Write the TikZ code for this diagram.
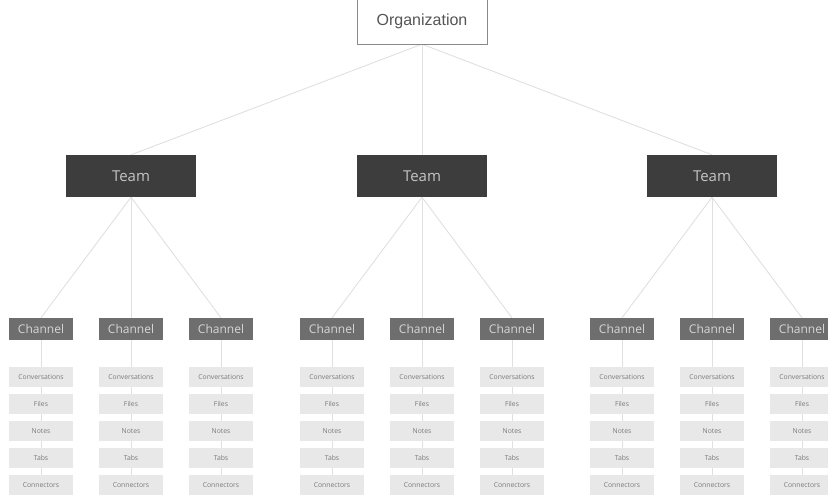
\documentclass[tikz,border=0pt]{standalone}
\usepackage{fontspec}
\setmainfont{Open Sans}
\newfontfamily\orgfont{Liberation Sans}
\usepackage{tikz}
\usetikzlibrary{positioning}
\usetikzlibrary{backgrounds}

\definecolor{orgline}{HTML}{8A8A8A}
\definecolor{orgtext}{HTML}{555555}
\definecolor{teamgray}{HTML}{3D3D3D}
\definecolor{teamtext}{HTML}{C4C4C4}
\definecolor{changray}{HTML}{6E6E6E}
\definecolor{chantext}{HTML}{D6D6D6}
\definecolor{itemgray}{HTML}{E8E8E8}
\definecolor{itemtext}{HTML}{7A7A7A}
\definecolor{linkgray}{HTML}{E0E0E0}

\tikzset{
  orgbox/.style={draw=orgline, fill=white, inner sep=0pt,
    minimum width=130pt, minimum height=46pt,
    text=orgtext, font=\orgfont\fontsize{16}{18}\selectfont},
  teambox/.style={fill=teamgray, inner sep=0pt,
    minimum width=130pt, minimum height=42pt,
    text=teamtext, font=\fontsize{15}{17}\selectfont},
  chanbox/.style={fill=changray, inner sep=0pt,
    minimum width=64pt, minimum height=22pt,
    text=chantext, font=\fontsize{12}{14}\selectfont},
  itembox/.style={fill=itemgray, inner sep=0pt,
    minimum width=64pt, minimum height=20pt,
    text=itemtext, font=\fontsize{6.8}{8}\selectfont},
  link/.style={draw=linkgray, line width=0.9pt}
}

\begin{document}
\begin{tikzpicture}[x=1pt,y=-1pt]

      \useasboundingbox (0,0) rectangle (828,502);

      \node (org) at (422,21) [orgbox] {Organization};

      % teams, channels and their tabs
      \foreach \t/\x in {1/131,2/422,3/712} {
        \node (team\t) at (\x,176) [teambox] {Team};
        \foreach \c/\dx in {1/-90,2/0,3/90} {
          \node (channel\t\c) at (\x+\dx,329) [chanbox] {Channel};
          \foreach \i/\txt in {1/Conversations,2/Files,3/Notes,4/Tabs,5/Connectors} {
            \node (item\t\c\i) at (\x+\dx,350+27*\i) [itembox] {\txt};
          }
        }
      }

      \begin{scope}[on background layer]
        \foreach \t in {1,2,3} {
          \draw[link] (org.south) -- (team\t.north);
          \foreach \c in {1,2,3} {
            \draw[link] (team\t.south) -- (channel\t\c.north);
            \draw[link] (channel\t\c.south) -- (item\t\c5.north);
          }
        }
      \end{scope}

    \end{tikzpicture}
\end{document}
